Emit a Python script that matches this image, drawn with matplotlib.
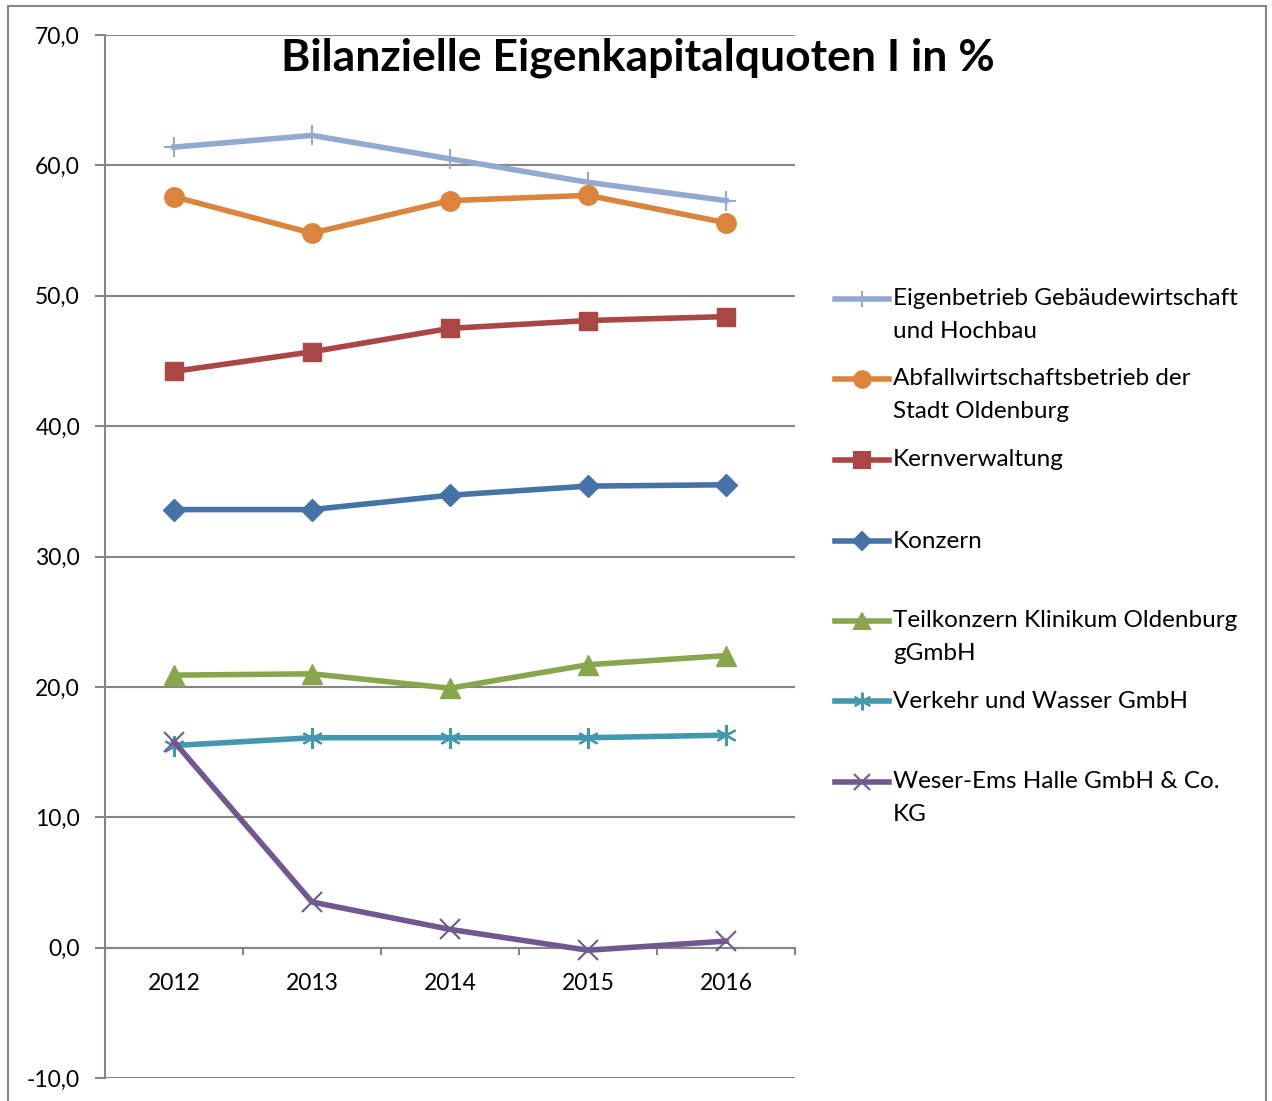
import numpy as np
import matplotlib.pyplot as plt
from matplotlib.lines import Line2D
from matplotlib.patches import Rectangle
from matplotlib.ticker import FuncFormatter

plt.rcParams['font.family'] = ['Lato', 'DejaVu Sans']

years = ['2012', '2013', '2014', '2015', '2016']
eigenbetrieb = [61.4, 62.3, 60.5, 58.7, 57.3]
abfall = [57.6, 54.8, 57.3, 57.7, 55.6]
kernverwaltung = [44.2, 45.7, 47.5, 48.1, 48.4]
konzern = [33.6, 33.6, 34.7, 35.4, 35.5]
klinikum = [20.9, 21.0, 19.9, 21.7, 22.4]
verkehr = [15.5, 16.1, 16.1, 16.1, 16.3]
weser_ems = [15.8, 3.5, 1.4, -0.2, 0.5]

labels = ['Eigenbetrieb Gebäudewirtschaft\nund Hochbau',
          'Abfallwirtschaftsbetrieb der\nStadt Oldenburg',
          'Kernverwaltung',
          'Konzern',
          'Teilkonzern Klinikum Oldenburg\ngGmbH',
          'Verkehr und Wasser GmbH',
          'Weser-Ems Halle GmbH & Co.\nKG']
series = [eigenbetrieb, abfall, kernverwaltung, konzern, klinikum, verkehr, weser_ems]
colors = ['#93A9CF', '#DB843D', '#AA4643', '#4572A7', '#89A54E', '#4198AF', '#71588F']
markers = ['+', 'o', 's', 'D', '^', (6, 2, 0), 'x']
msizes = [14, 14, 13, 11, 14, 15, 14]

fig = plt.figure(figsize=(12.72, 11.01), dpi=100)
ax = fig.add_axes([105 / 1272, 1 - 1078 / 1101, 690 / 1272, 1043 / 1101])

x = np.arange(len(years))
for ys, c, m, ms in zip(series, colors, markers, msizes):
    ax.plot(x, ys, color=c, lw=4, marker=m, ms=ms, mew=1.5 if m in ['+', 'x', (6, 2, 0)] else 1,
            mfc=c, mec=c, zorder=3, clip_on=False)

ax.set_ylim(-10, 70)
ax.set_xlim(-0.5, 4.5)
ax.set_yticks(np.arange(-10, 71, 10))
ax.yaxis.set_major_formatter(FuncFormatter(lambda v, p: f'{v:.1f}'.replace('.', ',')))
ax.grid(axis='y', color='#868686', lw=1.5)
ax.set_axisbelow(True)

ax.set_xticks(np.arange(-0.5, 4.6, 1))
ax.set_xticklabels([])
ax.set_xticks(x, minor=True)
ax.set_xticklabels(years, minor=True)
ax.tick_params(axis='x', which='major', length=5, width=1.5, color='#868686', direction='out')
ax.tick_params(axis='x', which='minor', length=0, pad=18, labelsize=16.5)
ax.tick_params(axis='y', length=7, width=1.5, color='#868686', labelsize=16.5, pad=11)

for s in ['top', 'right']:
    ax.spines[s].set_visible(False)
ax.spines['bottom'].set_position(('data', 0))
ax.spines['bottom'].set_color('#868686')
ax.spines['bottom'].set_linewidth(1.5)
ax.spines['left'].set_color('#868686')
ax.spines['left'].set_linewidth(1.5)

fig.text(638 / 1272, 1 - 58 / 1101, 'Bilanzielle Eigenkapitalquoten I in %',
         ha='center', va='center', fontsize=32, fontweight='bold')

# legend drawn by hand to keep Excel-like even spacing
leg_y = [299, 379, 460, 541, 621, 701, 782]
for lab, c, m, ms, yy in zip(labels, colors, markers, msizes, leg_y):
    fy = 1 - yy / 1101
    fig.add_artist(Line2D([835 / 1272, 889 / 1272], [fy, fy], color=c, lw=4,
                          transform=fig.transFigure))
    fig.add_artist(Line2D([862 / 1272], [fy], color=c, marker=m, ms=ms * 0.85, mfc=c, mec=c,
                          mew=1.5, transform=fig.transFigure))
    if '\n' in lab:
        fig.text(893 / 1272, fy + 11 / 1101, lab, ha='left', va='top', fontsize=17.5,
                 linespacing=1.7)
    else:
        fig.text(893 / 1272, fy, lab, ha='left', va='center', fontsize=17.5)

fig.add_artist(Rectangle((8 / 1272, -0.05), 1258 / 1272, 1.05 - 6 / 1101, fill=False,
                         edgecolor='#868686', lw=1.5, transform=fig.transFigure))

plt.savefig('out.png', dpi=100)
